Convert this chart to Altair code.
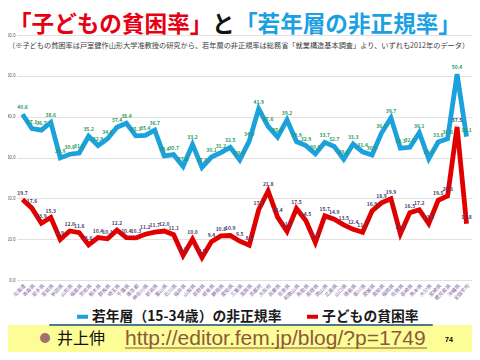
import altair as alt
import pandas as pd

prefectures = ["北海道", "青森県", "岩手県", "宮城県", "秋田県", "山形県", "福島県", "茨城県",
               "栃木県", "群馬県", "埼玉県", "千葉県", "東京都", "神奈川県", "新潟県", "富山県",
               "石川県", "福井県", "山梨県", "長野県", "岐阜県", "静岡県", "愛知県", "三重県",
               "滋賀県", "京都府", "大阪府", "兵庫県", "奈良県", "和歌山県", "鳥取県", "島根県",
               "岡山県", "広島県", "山口県", "徳島県", "香川県", "愛媛県", "高知県", "福岡県",
               "佐賀県", "長崎県", "熊本県", "大分県", "宮崎県", "鹿児島県", "沖縄県", "全国平均"]

youth_nonregular = [40.6, 37.1, 36.7, 38.6, 29.9, 30.8, 31.1, 35.2,
                    32.9, 34.6, 37.4, 38.4, 35.3, 35.4, 36.7, 30.4,
                    30.7, 27.8, 33.2, 27.6, 30.1, 31.2, 32.5, 29.4,
                    34.0, 41.9, 37.6, 35.0, 39.2, 33.9, 32.9, 30.9,
                    33.7, 32.7, 29.6, 33.3, 31.4, 30.6, 36.0, 39.7,
                    32.3, 32.5, 36.1, 29.7, 33.8, 34.6, 50.4, 35.1]

child_poverty = [19.7, 17.6, 13.9, 15.3, 9.9, 12.0, 11.6, 8.6,
                 10.4, 10.1, 12.2, 10.4, 10.3, 11.2, 11.7, 12.0,
                 11.1, 6.0, 10.0, 5.5, 9.4, 10.8, 10.9, 9.5,
                 8.5, 17.2, 21.8, 15.4, 11.9, 17.5, 14.5, 9.2,
                 15.7, 14.9, 13.5, 12.4, 11.7, 16.9, 18.9, 19.9,
                 11.3, 16.5, 17.2, 13.8, 19.5, 20.6, 37.5, 13.8]

series_names = ["若年層（15-34歳）の非正規率", "子どもの貧困率"]
series_colors = ["#1BA1DC", "#E00000"]
label_colors = ["#2E9A60", "#4B3B70"]

y_ticks = [0, 10, 20, 30, 40, 50, 60]

title_red = "「子どもの貧困率」"
title_mid = "と"
title_blue = "「若年層の非正規率」"
subtitle = "（※子どもの貧困率は戸室健作山形大学准教授の研究から、若年層の非正規率は総務省「就業構造基本調査」より、いずれも2012年のデータ）"
author = "井上伸"
link = "http://editor.fem.jp/blog/?p=1749"
page_no = "74"

df = pd.DataFrame({
    "pref": prefectures * 2,
    "series": [series_names[0]] * len(prefectures) + [series_names[1]] * len(prefectures),
    "value": youth_nonregular + child_poverty,
})

W, H = 455, 245
JP = "Noto Sans CJK JP"

x_enc = alt.X("pref:N", sort=prefectures,
              scale=alt.Scale(type="point", padding=0.58),
              axis=alt.Axis(title=None, labelAngle=315, labelFontSize=5, labelColor="#8064A2",
                            labelFont=JP, ticks=False, domain=False, grid=False,
                            labelPadding=3, labelOverlap=False))
y_enc = alt.Y("value:Q", scale=alt.Scale(domain=[0, 60], nice=False, zero=True),
              axis=alt.Axis(title=None, values=y_ticks, format=".1f", labelFontSize=4.5,
                            labelColor="#595959", ticks=False, domain=False,
                            gridColor="#D9D9D9", gridWidth=0.8, labelPadding=2))

base = alt.Chart(df)

lines = base.mark_line(strokeWidth=4.8, strokeJoin="miter").encode(
    x=x_enc, y=y_enc,
    color=alt.Color("series:N",
                    scale=alt.Scale(domain=series_names, range=series_colors),
                    sort=series_names,
                    legend=alt.Legend(title=None, orient="none", legendX=58, legendY=274,
                                      direction="horizontal", symbolType="stroke",
                                      symbolStrokeWidth=4, symbolSize=121,
                                      labelFontSize=13.8, labelFont=JP, labelFontWeight="bold",
                                      labelColor="#1a1a1a", columnPadding=17, labelOffset=2,
                                      labelLimit=400)),
)

labels = []
for name, col in zip(series_names, label_colors):
    labels.append(
        base.transform_filter(alt.datum.series == name).mark_text(
            dy=-7, fontSize=5, fontWeight="bold", font=JP, color=col
        ).encode(x=x_enc, y=y_enc, text=alt.Text("value:Q", format=".1f"))
    )

one = pd.DataFrame({"k": [0]})


def txt(t, vx, vy, size, color, align="left", weight="normal", font=JP):
    return alt.Chart(one).mark_text(
        text=t, fontSize=size, color=color, align=align, baseline="middle",
        fontWeight=weight, font=font
    ).encode(x=alt.value(vx), y=alt.value(vy))


band = alt.Chart(one).mark_rect(color="#FDFD98").encode(
    x=alt.value(-9), x2=alt.value(455), y=alt.value(290), y2=alt.value(317))
edge = alt.Chart(one).mark_rule(color="#4F7A85", strokeWidth=2, strokeCap="round").encode(
    x=alt.value(33), x2=alt.value(415), y=alt.value(290))
underline = alt.Chart(one).mark_rule(color="#8B5A3C", strokeWidth=1).encode(
    x=alt.value(108), x2=alt.value(410), y=alt.value(313))

decor = [
    txt(title_red, -8, -10, 22.6, "#E60012", weight="bold"),
    txt(title_mid, 195, -10, 22.6, "#111111", weight="bold"),
    txt(title_blue, 218, -10, 22.6, "#1BA1E2", weight="bold"),
    txt(subtitle, -9, 11, 7.2, "#404040"),
    txt("●", 28, 304, 11, "#A07070", align="center"),
    txt(author, 40, 304, 16, "#111111"),
    txt(link, 108, 304, 21, "#8B5A3C", font="Liberation Sans"),
    txt(page_no, 428, 305, 7, "#000000", weight="bold", font="Liberation Sans"),
]

chart = alt.layer(band, edge, lines, *labels, underline, *decor).properties(
    width=W, height=H,
    padding={"left": 9, "top": 27, "right": 0, "bottom": 72},
    autosize=alt.AutoSizeParams(type="none"),
    background="white",
).configure_view(stroke=None)

chart.save("out.html", embed_options={"renderer": "svg", "actions": False})
